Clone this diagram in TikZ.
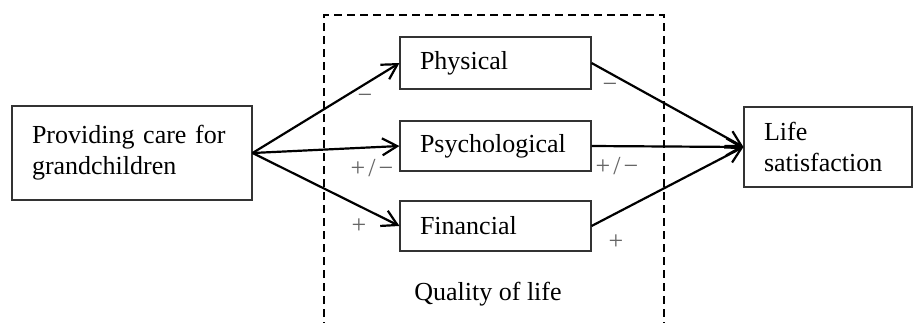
\documentclass[tikz,border=0pt]{standalone}
\usepackage{fontspec}
\setmainfont{Liberation Serif}
\usetikzlibrary{arrows.meta}

\begin{document}
\begin{tikzpicture}[x=1pt,y=-1pt,
  box/.style={draw=black!80,line width=1.1pt,inner xsep=20pt,inner ysep=0pt,
              align=left,font=\fontsize{26}{31}\selectfont},
  link/.style={line width=2.2pt,-{Straight Barb[length=15pt,width=17pt,line width=2.2pt]}},
  sign/.style={text=black!60,font=\fontsize{26}{31}\selectfont,inner sep=0pt}]
\useasboundingbox (0,0) rectangle (913,322);

% quality of life frame, open at the bottom
\draw[line width=1.8pt,dash pattern=on 8pt off 5pt] (324,330)--(324,15)--(664,15)--(664,330);
\node[font=\fontsize{26}{31}\selectfont] (qol) at (488,294) {Quality of life};

\node[box,text width=200pt,minimum height=94pt] (care) at (132,153) {Providing care for\\grandchildren};

\node[box,text width=151pt,minimum height=52pt] (phys) at (495.5,63) {Physical};
\node[box,text width=151pt,minimum height=50pt] (psych) at (495.5,146) {Psychological};
\node[box,text width=151pt,minimum height=50pt] (fin) at (495.5,226) {Financial};

\node[box,text width=128pt,minimum height=80pt] (life) at (828,147) {Life\\satisfaction};

\draw[link] (care.east)--(phys.west);
\draw[link] (care.east)--(psych.west);
\draw[link] (care.east)--(fin.west);

\draw[link] (phys.east)--(life.west);
\draw[link] (psych.east)--(life.west);
\draw[link] (fin.east)--(life.west);

% signs
\node[sign] (s1) at (365,99) {−};
\node[sign] (s2) at (372,168) {+\kern3pt/\kern3pt−};
\node[sign] (s3) at (359,226) {+};
\node[sign] (s4) at (610,88) {−};
\node[sign] (s5) at (617,166) {+\kern3pt/\kern3pt−};
\node[sign] (s6) at (616,242) {+};
\end{tikzpicture}
\end{document}
